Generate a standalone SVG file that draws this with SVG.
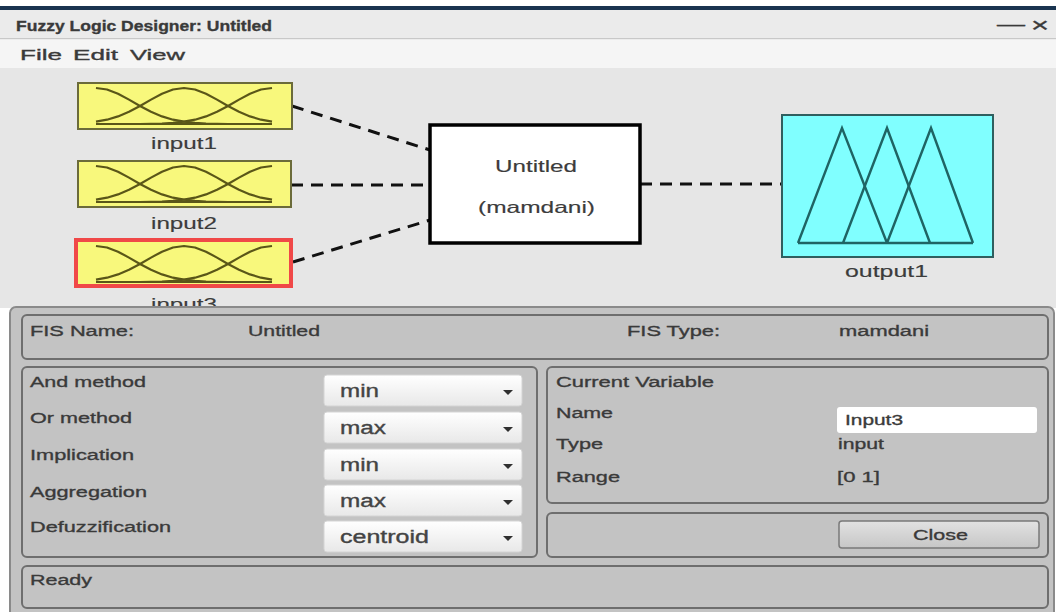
<svg xmlns="http://www.w3.org/2000/svg" width="1056" height="612" viewBox="0 0 1056 612">
  <style>
    .ui { font-family: "Liberation Sans", Arial, sans-serif; fill: #3a3a3a; stroke: #3a3a3a; stroke-width: 0.35; }
    .lbl { font-size: 15.5px; }
    .dd { font-size: 18px; fill: #444; stroke: #444; }
    .node-lbl { font-size: 16.5px; fill: #3c3c3c; stroke: #3c3c3c; stroke-width: 0.15; }
    .box { fill: #c3c3c3; stroke: #6e6e6e; stroke-width: 2; }
    .drop { fill: url(#dropFill); stroke: #d4d4d4; stroke-width: 1; }
    .mf { fill: none; stroke: #5a5618; stroke-width: 2.2; stroke-linejoin: round; }
    .tri { fill: none; stroke: #1f6464; stroke-width: 2.4; stroke-linejoin: miter; }
    .link { stroke: #111; stroke-width: 3; stroke-dasharray: 12 8; fill: none; }
    .arrow { fill: #303030; }
  </style>
  <defs>
    <linearGradient id="dropFill" x1="0" y1="0" x2="0" y2="1">
      <stop offset="0" stop-color="#ffffff"/>
      <stop offset="1" stop-color="#e8e8e8"/>
    </linearGradient>
    <linearGradient id="btnFill" x1="0" y1="0" x2="0" y2="1">
      <stop offset="0" stop-color="#e2e2e2"/>
      <stop offset="1" stop-color="#c6c6c6"/>
    </linearGradient>
    <!-- three gaussian membership curves, local frame of a 214x46 input box -->
    <g id="gauss3">
      <polyline class="mf" points="18,5 29,6.5 40,10.7 51,16.6 62,23 73,28.8 84,33.4 95,36.7 106,38.7 117,39.9 128,40.5 139,40.8 150,41"/>
      <polyline class="mf" points="18,38.7 29,36.7 40,33.4 51,28.8 62,23 73,16.6 84,10.7 95,6.5 106,5 117,6.5 128,10.7 139,16.6 150,23 161,28.8 172,33.4 183,36.7 194,38.7"/>
      <polyline class="mf" points="194,5 183,6.5 172,10.7 161,16.6 150,23 139,28.8 128,33.4 117,36.7 106,38.7 95,39.9 84,40.5 73,40.8 62,41"/>
      <line class="mf" x1="18" y1="41" x2="194" y2="41"/>
    </g>
  </defs>

  <!-- window frame -->
  <rect x="0" y="0" width="1056" height="612" fill="#ffffff"/>
  <rect x="0" y="6" width="1056" height="4" fill="#1a3450"/>
  <rect x="0" y="10" width="1056" height="28" fill="#ebebeb"/>
  <text class="ui" x="16" y="31" font-size="15.5" font-weight="bold" fill="#2a2a2a" stroke="none" textLength="256" lengthAdjust="spacingAndGlyphs">Fuzzy Logic Designer: Untitled</text>
  <text class="ui" x="997" y="30" font-size="16" fill="#b0b0b0" stroke="none" textLength="28" lengthAdjust="spacingAndGlyphs">—</text>
  <text class="ui" x="1031" y="32" font-size="20" fill="#555" stroke="none" textLength="18" lengthAdjust="spacingAndGlyphs">×</text>
  <rect x="0" y="38" width="1056" height="1.5" fill="#c8c8c8"/>
  <rect x="0" y="39.5" width="1056" height="28.5" fill="#f5f5f5"/>
  <text class="ui" x="20" y="60" font-size="15.5" fill="#555" stroke="#555" textLength="42" lengthAdjust="spacingAndGlyphs">File</text>
  <text class="ui" x="73" y="60" font-size="15.5" fill="#555" stroke="#555" textLength="45" lengthAdjust="spacingAndGlyphs">Edit</text>
  <text class="ui" x="130" y="60" font-size="15.5" fill="#555" stroke="#555" textLength="55" lengthAdjust="spacingAndGlyphs">View</text>

  <!-- diagram canvas -->
  <rect x="0" y="68" width="1056" height="240" fill="#e6e6e6"/>

  <!-- connectors -->
  <g id="connectors">
    <line class="link" x1="292" y1="106" x2="430" y2="150"/>
    <line class="link" x1="291" y1="185" x2="430" y2="185"/>
    <line class="link" x1="293" y1="262" x2="430" y2="220"/>
    <line class="link" x1="640" y1="184" x2="782" y2="184"/>
  </g>

  <g id="input1">
    <rect x="78" y="83" width="214" height="46" fill="#f8f87c" stroke="#6b6b3a" stroke-width="2"/>
    <use href="#gauss3" x="78" y="83"/>
    <text class="ui node-lbl" x="151" y="149" textLength="66" lengthAdjust="spacingAndGlyphs">input1</text>
  </g>

  <g id="input2">
    <rect x="78" y="161" width="213" height="46" fill="#f8f87c" stroke="#6b6b3a" stroke-width="2"/>
    <use href="#gauss3" x="78" y="161"/>
    <text class="ui node-lbl" x="151" y="229" textLength="66" lengthAdjust="spacingAndGlyphs">input2</text>
  </g>

  <g id="input3">
    <rect x="76" y="240" width="215" height="46" fill="#f8f87c" stroke="#f04848" stroke-width="4"/>
    <use href="#gauss3" x="78" y="241"/>
    <text class="ui node-lbl" x="151" y="310" fill="#e86060" stroke="#e86060" textLength="66" lengthAdjust="spacingAndGlyphs">input3</text>
  </g>

  <g id="system">
    <rect x="430" y="125" width="210" height="118" fill="#ffffff" stroke="#000" stroke-width="3.5"/>
    <text class="ui node-lbl" x="495" y="172" textLength="82" lengthAdjust="spacingAndGlyphs">Untitled</text>
    <text class="ui node-lbl" x="478" y="213" textLength="117" lengthAdjust="spacingAndGlyphs">(mamdani)</text>
  </g>

  <g id="output1">
    <rect x="782" y="115" width="211" height="142" fill="#80ffff" stroke="#2f5f5f" stroke-width="2"/>
    <polyline class="tri" points="798,243 842,128 887,243"/>
    <polyline class="tri" points="843,243 887,128 930,243"/>
    <polyline class="tri" points="887,243 931,128 973,243"/>
    <line class="tri" x1="798" y1="243" x2="973" y2="243"/>
    <text class="ui node-lbl" x="845" y="277" textLength="83" lengthAdjust="spacingAndGlyphs">output1</text>
  </g>

  <!-- property panel -->
  <g id="panel">
    <rect x="10" y="307" width="1044" height="312" rx="6" fill="#c3c3c3" stroke="#8a8a8a" stroke-width="2"/>

    <g id="fis-info">
      <rect class="box" x="22" y="315" width="1026" height="44" rx="5"/>
      <text class="ui lbl" x="30" y="336" textLength="104" lengthAdjust="spacingAndGlyphs">FIS Name:</text>
      <text class="ui lbl" x="248" y="336" textLength="72" lengthAdjust="spacingAndGlyphs">Untitled</text>
      <text class="ui lbl" x="627" y="336" textLength="93" lengthAdjust="spacingAndGlyphs">FIS Type:</text>
      <text class="ui lbl" x="839" y="336" textLength="90" lengthAdjust="spacingAndGlyphs">mamdani</text>
    </g>

    <g id="methods">
      <rect class="box" x="22" y="367" width="515" height="190" rx="5"/>
      <text class="ui lbl" x="30" y="387" textLength="116" lengthAdjust="spacingAndGlyphs">And method</text>
      <text class="ui lbl" x="30" y="423" textLength="102" lengthAdjust="spacingAndGlyphs">Or method</text>
      <text class="ui lbl" x="30" y="460" textLength="104" lengthAdjust="spacingAndGlyphs">Implication</text>
      <text class="ui lbl" x="30" y="497" textLength="117" lengthAdjust="spacingAndGlyphs">Aggregation</text>
      <text class="ui lbl" x="30" y="532" textLength="141" lengthAdjust="spacingAndGlyphs">Defuzzification</text>

      <rect class="drop" x="324" y="375" width="198" height="31" rx="3"/>
      <text class="ui dd" x="340" y="397" textLength="39" lengthAdjust="spacingAndGlyphs">min</text>
      <polygon class="arrow" points="503,390 513,390 508,395"/>

      <rect class="drop" x="324" y="412" width="198" height="31" rx="3"/>
      <text class="ui dd" x="340" y="434" textLength="46" lengthAdjust="spacingAndGlyphs">max</text>
      <polygon class="arrow" points="503,427 513,427 508,432"/>

      <rect class="drop" x="324" y="449" width="198" height="31" rx="3"/>
      <text class="ui dd" x="340" y="471" textLength="39" lengthAdjust="spacingAndGlyphs">min</text>
      <polygon class="arrow" points="503,464 513,464 508,469"/>

      <rect class="drop" x="324" y="485" width="198" height="31" rx="3"/>
      <text class="ui dd" x="340" y="507" textLength="46" lengthAdjust="spacingAndGlyphs">max</text>
      <polygon class="arrow" points="503,500 513,500 508,505"/>

      <rect class="drop" x="324" y="521" width="198" height="31" rx="3"/>
      <text class="ui dd" x="340" y="543" textLength="89" lengthAdjust="spacingAndGlyphs">centroid</text>
      <polygon class="arrow" points="503,536 513,536 508,541"/>
    </g>

    <g id="current-variable">
      <rect class="box" x="547" y="367" width="501" height="136" rx="5"/>
      <text class="ui lbl" x="556" y="387" textLength="158" lengthAdjust="spacingAndGlyphs">Current Variable</text>
      <text class="ui lbl" x="556" y="418" textLength="57" lengthAdjust="spacingAndGlyphs">Name</text>
      <text class="ui lbl" x="556" y="449" textLength="47" lengthAdjust="spacingAndGlyphs">Type</text>
      <text class="ui lbl" x="556" y="482" textLength="64" lengthAdjust="spacingAndGlyphs">Range</text>
      <rect x="837" y="407" width="200" height="26" rx="3" fill="#ffffff"/>
      <text class="ui lbl" x="845" y="425" textLength="58" lengthAdjust="spacingAndGlyphs">Input3</text>
      <text class="ui lbl" x="838" y="449" textLength="46" lengthAdjust="spacingAndGlyphs">input</text>
      <text class="ui lbl" x="837" y="482" textLength="43" lengthAdjust="spacingAndGlyphs">[0 1]</text>
    </g>

    <g id="close">
      <rect class="box" x="547" y="513" width="501" height="44" rx="5"/>
      <rect x="839" y="521" width="200" height="27" rx="3" fill="url(#btnFill)" stroke="#7a7a7a" stroke-width="1.5"/>
      <text class="ui lbl" x="913" y="540" textLength="55" lengthAdjust="spacingAndGlyphs">Close</text>
    </g>

    <g id="status">
      <rect class="box" x="22" y="566" width="1026" height="42" rx="5"/>
      <text class="ui lbl" x="30" y="585" textLength="62" lengthAdjust="spacingAndGlyphs">Ready</text>
    </g>
  </g>
</svg>
